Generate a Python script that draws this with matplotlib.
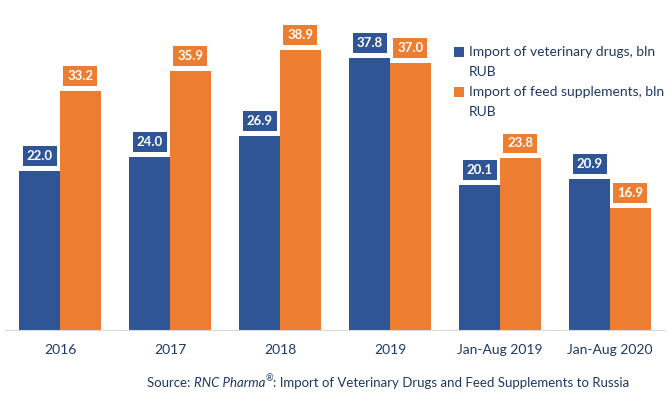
import matplotlib.pyplot as plt
from matplotlib.patches import Rectangle
import numpy as np

plt.rcParams['font.family'] = ['Lato', 'DejaVu Sans']

categories = ["2016", "2017", "2018", "2019", "Jan-Aug 2019", "Jan-Aug 2020"]
vet_drugs = [22.0, 24.0, 26.9, 37.8, 20.1, 20.9]
feed_suppl = [33.2, 35.9, 38.9, 37.0, 23.8, 16.9]
series_names = ["Import of veterinary drugs, bln\nRUB",
                "Import of feed supplements, bln\nRUB"]

blue = '#2F5597'
orange = '#ED7D31'
txt_col = '#203864'
W, H = 672, 398

fig = plt.figure(figsize=(6.72, 3.98), dpi=100)
ax = fig.add_axes([0.0075, 0.171, 0.982, 0.829])

x = np.arange(len(categories))
w = 0.37
b1 = ax.bar(x - w/2, vet_drugs, w, color=blue)
b2 = ax.bar(x + w/2, feed_suppl, w, color=orange)

# value labels in coloured boxes above bars
for bars, col in ((b1, blue), (b2, orange)):
    for r in bars:
        h = r.get_height()
        ax.annotate("%.1f" % h, (r.get_x() + r.get_width()/2, h),
                    xytext=(0, 15), textcoords='offset pixels',
                    ha='center', va='center', color='white', fontsize=9.5,
                    fontweight='bold',
                    bbox=dict(boxstyle='square,pad=0.3', fc=col, ec='none'))

ax.set_xlim(-0.5, 5.5)
ax.set_ylim(0, 45.8)
ax.set_xticks(x)
ax.set_xticklabels(categories, color=txt_col, fontsize=10)
ax.tick_params(axis='x', length=0, pad=10)
ax.set_yticks([])
for s in ['top', 'right', 'left']:
    ax.spines[s].set_visible(False)
ax.spines['bottom'].set_color('#D9D9D9')

# legend drawn by hand so the marker sits on the first line
for i, (name, col) in enumerate(zip(series_names, (blue, orange))):
    yc = 52 + 40 * i
    fig.patches.append(Rectangle((454 / W, (H - yc - 5) / H), 10 / W, 10 / H,
                                 transform=fig.transFigure, fc=col, ec='none'))
    fig.text(469 / W, (H - yc) / H, name.split("\n")[0], color=txt_col,
             fontsize=10, ha='left', va='center')
    fig.text(469 / W, (H - yc - 20) / H, name.split("\n")[1], color=txt_col,
             fontsize=10, ha='left', va='center')

# source line: plain + italic + superscript + plain
parts = [("Source: ", 'normal', 9.5, 0),
         ("RNC Pharma", 'italic', 9.5, 0),
         ("®", 'normal', 6.5, 4),
         (": Import of Veterinary Drugs and Feed Supplements to Russia", 'normal', 9.5, 0)]
fig.canvas.draw()
rend = fig.canvas.get_renderer()
xpos = 147
for s, style, fs, dy in parts:
    t = fig.text(xpos / W, (H - 383 + dy) / H, s, color=txt_col, fontsize=fs,
                 style=style, ha='left', va='center')
    xpos += t.get_window_extent(renderer=rend).width

fig.savefig("out.png", dpi=100)
